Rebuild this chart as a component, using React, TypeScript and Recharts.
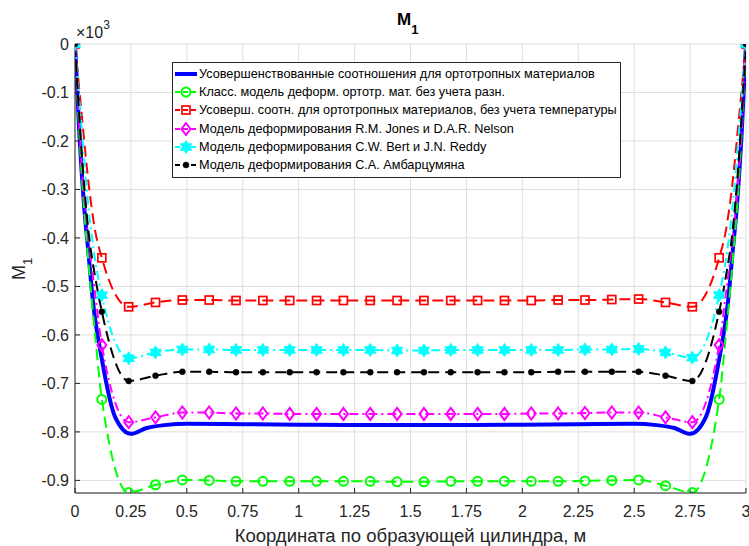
import React from 'react';
import { LineChart, Line, XAxis, YAxis, CartesianGrid } from 'recharts';

// ---------- data ----------
// x positions where markers are drawn
const markerX = [0, 0.12, 0.24, 0.36, 0.48, 0.6, 0.72, 0.84, 0.96, 1.08, 1.2, 1.32, 1.44, 1.56, 1.68, 1.8, 1.92, 2.04, 2.16, 2.28, 2.4, 2.52, 2.64, 2.76, 2.88, 3.0];

// x positions of the read-off curve points (markers + extra points on the steep edges)
const curveX = [0, 0.03, 0.06, 0.09, 0.12, 0.24, 0.36, 0.48, 0.6, 0.72, 0.84, 0.96, 1.08, 1.2, 1.32, 1.44, 1.56, 1.68, 1.8, 1.92, 2.04, 2.16, 2.28, 2.4, 2.52, 2.64, 2.76, 2.88, 2.91, 2.94, 2.97, 3.0];

const classicY = [0, -0.27, -0.45, -0.6, -0.733, -0.925, -0.909, -0.899, -0.9, -0.902, -0.902, -0.902, -0.902, -0.902, -0.902, -0.903, -0.903, -0.902, -0.902, -0.902, -0.902, -0.902, -0.901, -0.9, -0.899, -0.911, -0.925, -0.733, -0.6, -0.45, -0.27, 0];
const noTempY = [0, -0.145, -0.285, -0.385, -0.441, -0.542, -0.533, -0.528, -0.528, -0.529, -0.529, -0.529, -0.529, -0.529, -0.529, -0.529, -0.529, -0.529, -0.529, -0.529, -0.529, -0.528, -0.528, -0.527, -0.526, -0.533, -0.542, -0.441, -0.385, -0.285, -0.145, 0];
const jonesY = [0, -0.25, -0.4, -0.515, -0.621, -0.78, -0.77, -0.76, -0.76, -0.762, -0.762, -0.763, -0.763, -0.763, -0.763, -0.763, -0.763, -0.763, -0.763, -0.763, -0.762, -0.762, -0.761, -0.76, -0.76, -0.77, -0.78, -0.621, -0.515, -0.4, -0.25, 0];
const bertY = [0, -0.175, -0.335, -0.445, -0.518, -0.648, -0.636, -0.63, -0.63, -0.631, -0.631, -0.631, -0.631, -0.631, -0.631, -0.632, -0.632, -0.631, -0.631, -0.631, -0.631, -0.631, -0.63, -0.63, -0.629, -0.636, -0.647, -0.518, -0.445, -0.335, -0.175, 0];
const ambY = [0, -0.225, -0.385, -0.48, -0.552, -0.695, -0.684, -0.676, -0.676, -0.677, -0.677, -0.677, -0.677, -0.677, -0.677, -0.677, -0.677, -0.677, -0.677, -0.677, -0.677, -0.676, -0.676, -0.676, -0.676, -0.684, -0.695, -0.552, -0.48, -0.385, -0.225, 0];

const improvedX = [0, 0.02, 0.04, 0.06, 0.08, 0.12, 0.18, 0.25, 0.32, 0.4, 0.5, 0.75, 1.0, 1.25, 1.5, 1.75, 2.0, 2.25, 2.5, 2.6, 2.68, 2.75, 2.82, 2.88, 2.92, 2.94, 2.96, 2.98, 3.0];
const improvedY = [0, -0.19, -0.33, -0.43, -0.53, -0.65, -0.77, -0.804, -0.792, -0.786, -0.783, -0.784, -0.785, -0.786, -0.786, -0.786, -0.785, -0.784, -0.783, -0.786, -0.792, -0.804, -0.77, -0.65, -0.53, -0.43, -0.33, -0.19, 0];

const xTicks = [0, 0.25, 0.5, 0.75, 1, 1.25, 1.5, 1.75, 2, 2.25, 2.5, 2.75, 3];
const yTicks = [0, -0.1, -0.2, -0.3, -0.4, -0.5, -0.6, -0.7, -0.8, -0.9];

const seriesNames = [
  'Усовершенствованные соотношения для ортотропных материалов',
  'Класс. модель деформ. ортотр. мат. без учета разн.',
  'Усоверш. соотн. для ортотропных материалов, без учета температуры',
  'Модель деформирования R.M. Jones и D.A.R. Nelson',
  'Модель деформирования C.W. Bert и J.N. Reddy',
  'Модель деформирования С.А. Амбарцумяна',
];

const title = 'M';
const xLabel = 'Координата по образующей цилиндра, м';

// ---------- helpers ----------
const rows = (xs: number[], ys: number[]) => xs.map((x, i) => ({ x, y: ys[i], m: markerX.includes(x) }));

type Shape = 'none' | 'circle' | 'square' | 'diamond' | 'hexagram' | 'dot';

function Marker({ shape, cx, cy, color }: { shape: Shape; cx: number; cy: number; color: string }) {
  if (shape === 'circle') return <circle cx={cx} cy={cy} r={4.5} fill="none" stroke={color} strokeWidth={2} />;
  if (shape === 'square') return <rect x={cx - 4} y={cy - 4} width={8} height={8} fill="none" stroke={color} strokeWidth={1.7} />;
  if (shape === 'diamond')
    return (
      <polygon
        points={`${cx},${cy - 6} ${cx + 4.5},${cy} ${cx},${cy + 6} ${cx - 4.5},${cy}`}
        fill="none"
        stroke={color}
        strokeWidth={2}
      />
    );
  if (shape === 'hexagram') {
    const pts: string[] = [];
    for (let i = 0; i < 12; i++) {
      const a = -Math.PI / 2 + (i * Math.PI) / 6;
      const rr = i % 2 === 0 ? 6.5 : 6.5 / Math.sqrt(3);
      pts.push(`${cx + rr * Math.cos(a)},${cy + rr * Math.sin(a)}`);
    }
    return <polygon points={pts.join(' ')} fill={color} stroke={color} strokeWidth={1} />;
  }
  if (shape === 'dot') return <circle cx={cx} cy={cy} r={3} fill={color} stroke={color} strokeWidth={0.5} />;
  return null;
}

const series = [
  { name: seriesNames[0], data: rows(improvedX, improvedY), color: '#0000ff', width: 4, dash: undefined, shape: 'none' as Shape },
  { name: seriesNames[1], data: rows(curveX, classicY), color: '#00ff00', width: 2, dash: '11 6', shape: 'circle' as Shape },
  { name: seriesNames[2], data: rows(curveX, noTempY), color: '#ff0000', width: 2, dash: '11 6', shape: 'square' as Shape },
  { name: seriesNames[3], data: rows(curveX, jonesY), color: '#ff00ff', width: 2, dash: '9 4 2 4', shape: 'diamond' as Shape },
  { name: seriesNames[4], data: rows(curveX, bertY), color: '#00ffff', width: 2, dash: '9 4 2 4', shape: 'hexagram' as Shape },
  { name: seriesNames[5], data: rows(curveX, ambY), color: '#000000', width: 2, dash: '11 6', shape: 'dot' as Shape },
];

const FONT = '"Liberation Sans", Arial, Helvetica, sans-serif';
const AXIS = '#262626';

function LegendBox() {
  return (
    <div
      style={{
        position: 'absolute',
        left: 172,
        top: 62,
        border: '1px solid #262626',
        background: '#fff',
        padding: '2px 3px 3px 1px',
        fontFamily: FONT,
        fontSize: 12.7,
        color: '#000',
        whiteSpace: 'nowrap',
      }}
    >
      {series.map((s) => (
        <div key={s.name} style={{ height: 18.2, display: 'flex', alignItems: 'center' }}>
          <svg width={24} height={14} style={{ flex: 'none' }}>
            <line x1={1} y1={7} x2={23} y2={7} stroke={s.color} strokeWidth={s.shape === 'none' ? 4 : 2} strokeDasharray={s.dash ? '5 3' : undefined} />
            <Marker shape={s.shape} cx={12} cy={7} color={s.color} />
          </svg>
          <span style={{ marginLeft: 1 }}>{s.name}</span>
        </div>
      ))}
    </div>
  );
}

export default function App() {
  return (
    <div style={{ position: 'absolute', left: 0, top: 0, width: 749, height: 546, background: '#fff' }}>
      <LineChart width={749} height={546} margin={{ top: 44, right: 3, bottom: 0, left: 0 }}>
        <CartesianGrid stroke="#dfdfdf" strokeWidth={1} />
        <XAxis
          dataKey="x"
          type="number"
          domain={[0, 3]}
          ticks={xTicks}
          allowDataOverflow
          height={53}
          stroke={AXIS}
          tickSize={-5}
          tickMargin={18}
          tick={{ fill: AXIS, fontSize: 16, fontFamily: FONT }}
          interval={0}
          label={{ value: xLabel, position: 'insideBottom', offset: 4, fill: AXIS, fontSize: 18.5, fontFamily: FONT }}
        />
        <YAxis
          dataKey="y"
          type="number"
          domain={[-0.926, 0]}
          ticks={yTicks}
          allowDataOverflow
          width={75}
          stroke={AXIS}
          tickSize={-5}
          tickMargin={11}
          interval={0}
          tick={{ fill: AXIS, fontSize: 16, fontFamily: FONT }}
          tickFormatter={(v: number) => (v === 0 ? '0' : String(v))}
        />
        {series.map((s) => (
          <Line
            key={s.name}
            name={s.name}
            data={s.data}
            dataKey="y"
            type="monotone"
            stroke={s.color}
            strokeWidth={s.width}
            strokeDasharray={s.dash}
            dot={
              s.shape === 'none'
                ? false
                : (p: any) => (
                    <g key={`${s.shape}-${p.index}`}>
                      {p.payload && p.payload.m ? <Marker shape={s.shape} cx={p.cx} cy={p.cy} color={s.color} /> : null}
                    </g>
                  )
            }
            activeDot={false}
            isAnimationActive={false}
          />
        ))}
      </LineChart>
      <LegendBox />
      <svg width={749} height={546} style={{ position: 'absolute', left: 0, top: 0, pointerEvents: 'none' }}>
        <text x={397} y={25} fontFamily={FONT} fontSize={17} fontWeight="bold" fill="#000">
          {title}
          <tspan fontSize={13} dy={9}>1</tspan>
        </text>
        <text x={76} y={38} fontFamily={FONT} fontSize={16} fill={AXIS}>
          ×10
          <tspan fontSize={12} dy={-9}>3</tspan>
        </text>
        <text transform="translate(25,280) rotate(-90)" fontFamily={FONT} fontSize={18} fill={AXIS}>
          M
          <tspan fontSize={13} dy={7}>1</tspan>
        </text>
      </svg>
    </div>
  );
}
